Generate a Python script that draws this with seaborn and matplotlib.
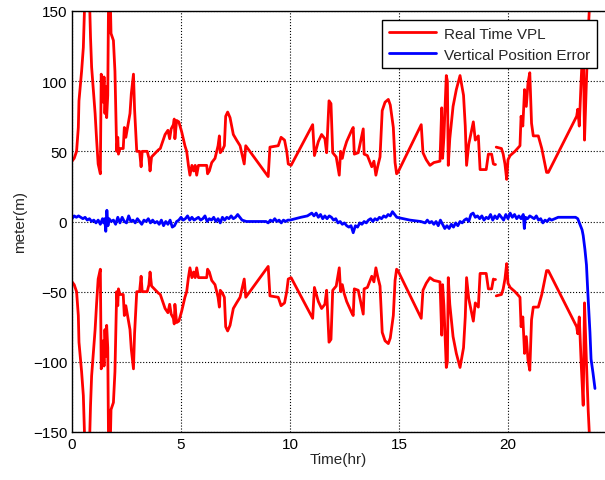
import numpy as np
import pandas as pd
import seaborn as sns
import matplotlib.pyplot as plt

# Real time VPL (hr, m) - plotted as +VPL and -VPL
vpl_t = [0.0, 0.1, 0.21, 0.29, 0.32, 0.44, 0.52, 0.6, 0.7, 0.8, 0.85, 0.9, 1.06, 1.13, 1.2, 1.3,
         1.34, 1.38, 1.43, 1.47, 1.51, 1.56, 1.59, 1.64, 1.68, 1.74, 1.79, 1.9, 1.97, 2.05, 2.1,
         2.13, 2.2, 2.35, 2.4, 2.47, 2.55, 2.66, 2.72, 2.82, 2.87, 2.97, 3.1, 3.17, 3.22, 3.45,
         3.53, 3.58, 3.65, 3.96, 4.05, 4.27, 4.4, 4.48, 4.55, 4.65, 4.69, 4.72, 4.8, 4.9, 5.03,
         5.18, 5.26, 5.34, 5.41, 5.5, 5.58, 5.65, 5.72, 5.8, 5.95, 6.18, 6.22, 6.3, 6.41, 6.56,
         6.62, 6.7, 6.76, 6.8, 6.9, 6.99, 7.05, 7.14, 7.25, 7.4, 7.55, 7.71, 7.86, 7.9, 7.97,
         9.0, 9.08, 9.46, 9.59, 9.75, 9.85, 9.92, 10.05, 11.04, 11.12, 11.3, 11.45, 11.6, 11.68,
         11.79, 11.88, 11.96, 12.12, 12.26, 12.32, 12.4, 12.48, 12.6, 12.83, 12.9, 12.95, 13.13,
         13.36, 13.4, 13.55, 13.75, 13.85, 13.94, 14.02, 14.13, 14.23, 14.36, 14.51, 14.6, 14.74,
         14.82, 14.89, 14.95, 16.02, 16.1, 16.25, 16.42, 16.6, 16.88, 16.96, 17.0, 17.06, 17.17,
         17.22, 17.26, 17.33, 17.48, 17.63, 17.8, 17.96, 18.04, 18.1, 18.2, 18.41, 18.5, 18.64,
         18.72, 19.0, 19.1, 19.25, 19.33,
         np.nan, 19.38, 19.41, np.nan,
         19.46, 19.7, 19.78, 19.86, 19.94, 20.0, 20.1, 20.32, 20.55, 20.6, 20.68, 20.76, 20.84,
         20.92, 21.0, 21.08, 21.16, 21.39, 21.55, 21.77, 21.85, 23.15, 23.2, 23.27, 23.36, 23.45,
         23.51, 23.6, 23.68, 23.76, 23.85]
vpl_m = [43, 45, 50, 67, 86, 107, 124, 165, 172, 160, 131, 110, 77, 58, 41, 34,
         105, 100, 85, 103, 77, 96, 74, 90, 165, 170, 134, 129, 107, 50, 60,
         48, 52, 52, 67, 60, 67, 77, 91, 105, 80, 50, 50, 39, 50, 50,
         45, 36, 46, 51, 52, 62, 65, 59, 66, 69, 73, 59, 72, 71, 64,
         54, 50, 40, 33, 40, 36, 40, 33, 40, 40, 40, 34, 36, 42, 45,
         49, 54, 61, 49, 51, 54, 75, 78, 74, 62, 58, 54, 44, 41, 54,
         32, 53, 54, 60, 58, 50, 41, 40, 69, 47, 57, 62, 59, 49,
         86, 84, 49, 46, 33, 50, 45, 51, 57, 65, 67, 48, 49,
         66, 48, 47, 39, 43, 33, 39, 46, 79, 85, 87, 83, 67,
         42, 34, 35, 69, 49, 44, 40, 42, 43, 81, 45, 60, 104,
         100, 40, 59, 82, 94, 104, 90, 68, 40, 55, 71, 58, 61,
         37, 37, 48, 48, 41,
         np.nan, 41, 41, np.nan,
         53, 52, 48, 41, 30, 44, 47, 50, 54, 75, 68, 94, 82,
         99, 106, 70, 61, 61, 52, 35, 35, 75, 80, 68, 102, 131,
         58, 101, 135, 160, 175]

# Vertical position error (hr, m)
err_t = [0.0, 0.1, 0.2, 0.3, 0.4, 0.5, 0.6, 0.7, 0.8, 0.9, 1.0, 1.1, 1.2, 1.3, 1.4, 1.45, 1.5,
         1.55, 1.6, 1.65, 1.7, 1.8, 1.9, 2.0, 2.1, 2.2, 2.3, 2.4, 2.5, 2.6, 2.7, 2.8, 2.9, 3.0,
         3.1, 3.2, 3.3, 3.4, 3.5, 3.6, 3.7, 3.8, 3.9, 4.0, 4.1, 4.2, 4.3, 4.4, 4.5, 4.6, 4.7,
         4.8, 4.9, 5.0, 5.1, 5.2, 5.3, 5.4, 5.5, 5.6, 5.7, 5.8, 5.9, 6.0, 6.1, 6.2, 6.3, 6.4,
         6.5, 6.6, 6.7, 6.8, 6.9, 7.0, 7.1, 7.2, 7.3, 7.4, 7.5, 7.6, 7.7, 7.8, 8.0, 8.5, 8.9,
         9.0, 9.1, 9.2, 9.3, 9.4, 9.5, 9.6, 9.7, 9.8, 9.9, 10.0, 10.5, 10.8, 11.0, 11.1, 11.2,
         11.3, 11.4, 11.5, 11.6, 11.7, 11.8, 11.9, 12.0, 12.1, 12.2, 12.3, 12.4, 12.5, 12.6,
         12.7, 12.8, 12.9, 13.0, 13.1, 13.2, 13.3, 13.4, 13.5, 13.6, 13.7, 13.8, 13.9, 14.0,
         14.1, 14.2, 14.3, 14.4, 14.5, 14.6, 14.7, 14.8, 14.9, 15.5, 16.0, 16.2, 16.3, 16.4,
         16.5, 16.6, 16.7, 16.8, 16.9, 17.0, 17.1, 17.2, 17.3, 17.4, 17.5, 17.6, 17.7, 17.8,
         17.9, 18.0, 18.1, 18.2, 18.3, 18.4, 18.5, 18.6, 18.7, 18.8, 18.9, 19.0, 19.1, 19.2,
         19.3, 19.4, 19.5, 19.6, 19.7, 19.8, 19.9, 20.0, 20.1, 20.2, 20.3, 20.4, 20.5, 20.6,
         20.7, 20.75, 20.8, 20.9, 21.0, 21.1, 21.2, 21.3, 21.4, 21.5, 21.6, 21.7, 21.8, 21.9,
         22.0, 22.3, 22.7, 23.1, 23.2, 23.3, 23.4, 23.45, 23.53, 23.6, 23.66, 23.76, 23.81,
         23.9, 23.99]
err_m = [2, 4, 3, 4, 3, 2, 3, 1, 2, 0, 1, -1, 1, -2, 2, -1, 2,
         -7, 8, -3, 2, 0, 1, -2, 3, -1, 3, 0, -1, 4, 0, 1, -1, 2,
         0, -2, 1, 0, 2, -1, 1, -1, 0, -2, 1, -3, 0, -2, 1, -4, -3,
         0, 1, 3, 1, 2, 4, 1, 3, 1, 2, 3, 1, 2, 4, 0, 2, 1,
         3, 0, 2, -1, 3, 1, 3, 2, 4, 2, 3, 5, 3, 1, 0, 0, 0,
         -1, 1, 0, 2, 0, 1, -1, 1, 0, 1, 1, 3, 4, 6, 4, 6,
         3, 5, 2, 4, 2, 4, 3, 1, 2, -1, 0, -2, -1, -3,
         -4, -3, -8, -3, -4, -1, -2, 0, -1, 1, 2, 0, 2, 1,
         3, 2, 4, 3, 5, 4, 7, 5, 3, 1, 0, -1, 1, -1,
         0, -2, 0, -3, 1, -2, -5, -3, -5, -2, -4, -1, -3, 0,
         -1, 1, 2, 0, 5, 6, 3, 4, 2, 4, 1, 3, 2, 5,
         1, 4, 2, 5, 3, 1, 5, 2, 6, 3, 5, 2, 4, 2,
         5, -5, 3, 2, 4, 3, 2, 4, 1, 2, -1, 1, 0, 2,
         1, 3, 3, 3, 2, -2, -6, -10, -20, -31, -50, -79, -98,
         -108, -119]

# segment ids so NaN gaps split the VPL trace
seg = np.cumsum(np.isnan(np.array(vpl_t, dtype=float)))
vpl = pd.DataFrame({'t': vpl_t, 'm': vpl_m, 'seg': seg}).dropna()
vpl_pos = vpl.assign(unit='p' + vpl['seg'].astype(str))
vpl_neg = vpl.assign(m=-vpl['m'], unit='n' + vpl['seg'].astype(str))
vpl_all = pd.concat([vpl_pos, vpl_neg], ignore_index=True)
err = pd.DataFrame({'t': err_t, 'm': err_m})

sns.set_style('white')
plt.rcParams['font.family'] = ['Liberation Sans', 'DejaVu Sans']

fig = plt.figure(figsize=(6.05, 4.81), dpi=100)
ax = fig.add_axes([72 / 605, 48 / 481, 533 / 605, 421 / 481])

sns.lineplot(data=vpl_all, x='t', y='m', units='unit', estimator=None, sort=False,
             color='#ff0000', linewidth=2, ax=ax)
sns.lineplot(data=err, x='t', y='m', estimator=None, sort=False,
             color='#0000ff', linewidth=2, ax=ax)

ax.set_xlim(0, 24.45)
ax.set_ylim(-150, 150)
ax.set_xticks([0, 5, 10, 15, 20])
ax.set_yticks([-150, -100, -50, 0, 50, 100, 150])
ax.grid(True, color='black', linestyle=':', linewidth=0.8)
ax.tick_params(direction='in', labelsize=11, length=4, color='black', colors='black')
for side in ['top', 'left', 'bottom']:
    ax.spines[side].set_color('black')
    ax.spines[side].set_linewidth(1)
ax.spines['right'].set_visible(False)
ax.set_xlabel('Time(hr)', fontsize=11, labelpad=1)
ax.set_ylabel('meter(m)', fontsize=11, labelpad=4)

h_red = plt.Line2D([], [], color='#ff0000', linewidth=2)
h_blue = plt.Line2D([], [], color='#0000ff', linewidth=2)
leg = ax.legend([h_red, h_blue], ['Real Time VPL', 'Vertical Position Error'],
                loc='upper right', bbox_to_anchor=(0.985, 0.979), borderaxespad=0,
                fancybox=False, framealpha=1, edgecolor='black', fontsize=11,
                handlelength=3.1, borderpad=0.45, labelspacing=0.45, handletextpad=0.5)
leg.get_frame().set_linewidth(1)

fig.savefig('out.png', dpi=100)
